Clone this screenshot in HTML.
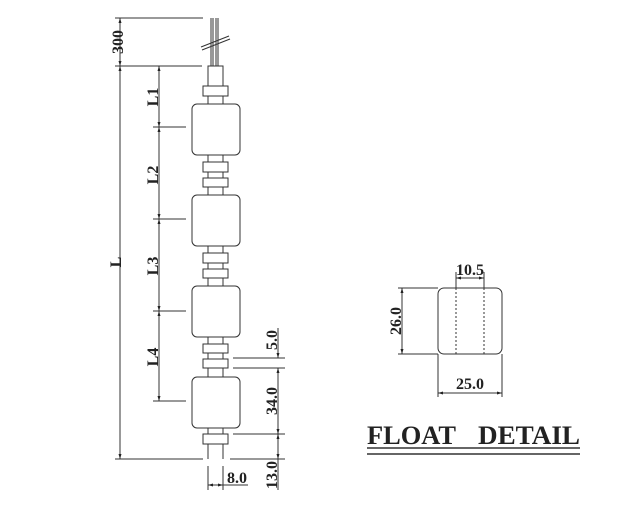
<!DOCTYPE html>
<html><head><meta charset="utf-8"><style>
html,body{margin:0;padding:0;background:#fff;}
svg{display:block;}
text{font-family:"Liberation Serif",serif;fill:#222;}
</style></head><body>
<svg width="619" height="510" viewBox="0 0 619 510" xmlns="http://www.w3.org/2000/svg">
<defs>
<marker id="a" markerWidth="6" markerHeight="6" refX="5" refY="3" orient="auto-start-reverse" markerUnits="userSpaceOnUse"><path d="M0,1.5 L5,3 L0,4.5 Z" fill="#222"/></marker>
</defs>
<g stroke="#333" stroke-width="1" fill="none">
<line x1="211" y1="18" x2="211" y2="66"/><line x1="213" y1="18" x2="213" y2="66"/>
<line x1="216" y1="18" x2="216" y2="66"/><line x1="218" y1="18" x2="218" y2="66"/>
<line x1="201" y1="47" x2="229" y2="36"/><line x1="202" y1="50" x2="230" y2="39"/>
<rect x="208" y="66" width="15" height="20"/>
<rect x="203" y="86" width="25" height="10" fill="#fff"/>
<line x1="208" y1="96" x2="208" y2="104"/><line x1="223" y1="96" x2="223" y2="104"/>
<rect x="192" y="104" width="48" height="51" rx="5" fill="#fff"/>
<line x1="208" y1="155" x2="208" y2="195"/><line x1="223" y1="155" x2="223" y2="195"/>
<rect x="203" y="162" width="25" height="10" fill="#fff"/>
<rect x="203" y="178" width="25" height="9" fill="#fff"/>
<rect x="192" y="195" width="48" height="51" rx="5" fill="#fff"/>
<line x1="208" y1="246" x2="208" y2="286"/><line x1="223" y1="246" x2="223" y2="286"/>
<rect x="203" y="253" width="25" height="10" fill="#fff"/>
<rect x="203" y="269" width="25" height="9" fill="#fff"/>
<rect x="192" y="286" width="48" height="51" rx="5" fill="#fff"/>
<line x1="208" y1="337" x2="208" y2="377"/><line x1="223" y1="337" x2="223" y2="377"/>
<rect x="203" y="344" width="25" height="9" fill="#fff"/>
<rect x="203" y="359" width="25" height="9" fill="#fff"/>
<rect x="192" y="377" width="48" height="51" rx="5" fill="#fff"/>
<line x1="208" y1="428" x2="208" y2="459"/><line x1="223" y1="428" x2="223" y2="459"/>
<rect x="203" y="434" width="25" height="10" fill="#fff"/>
<line x1="115" y1="18" x2="203" y2="18"/>
<line x1="115" y1="66" x2="202" y2="66"/>
<line x1="115" y1="459" x2="203" y2="459"/>
<line x1="120" y1="18" x2="120" y2="66" marker-start="url(#a)" marker-end="url(#a)"/>
<line x1="120" y1="66" x2="120" y2="459" marker-start="url(#a)" marker-end="url(#a)"/>
<line x1="159" y1="66" x2="159" y2="127" marker-start="url(#a)" marker-end="url(#a)"/>
<line x1="159" y1="127" x2="159" y2="219" marker-start="url(#a)" marker-end="url(#a)"/>
<line x1="159" y1="219" x2="159" y2="311" marker-start="url(#a)" marker-end="url(#a)"/>
<line x1="159" y1="311" x2="159" y2="401" marker-start="url(#a)" marker-end="url(#a)"/>
<line x1="153" y1="127" x2="186" y2="127"/>
<line x1="153" y1="219" x2="186" y2="219"/>
<line x1="153" y1="311" x2="186" y2="311"/>
<line x1="153" y1="401" x2="186" y2="401"/>
<line x1="233" y1="358" x2="285" y2="358"/>
<line x1="233" y1="368" x2="285" y2="368"/>
<line x1="233" y1="434" x2="285" y2="434"/>
<line x1="230" y1="459" x2="285" y2="459"/>
<line x1="278" y1="328" x2="278" y2="358" marker-end="url(#a)"/>
<line x1="278" y1="368" x2="278" y2="434" marker-start="url(#a)" marker-end="url(#a)"/>
<line x1="278" y1="434" x2="278" y2="459" marker-start="url(#a)" marker-end="url(#a)"/>
<line x1="278" y1="459" x2="278" y2="490"/>
<line x1="208" y1="466" x2="208" y2="490"/><line x1="223" y1="466" x2="223" y2="490"/>
<line x1="208" y1="485" x2="223" y2="485" marker-start="url(#a)" marker-end="url(#a)"/>
<line x1="223" y1="485" x2="248" y2="485"/>
<rect x="438" y="288" width="64" height="66" rx="6"/>
<line x1="456" y1="288" x2="456" y2="354" stroke-dasharray="2,2"/>
<line x1="484" y1="288" x2="484" y2="354" stroke-dasharray="2,2"/>
<line x1="456" y1="272" x2="456" y2="288"/><line x1="484" y1="272" x2="484" y2="288"/>
<line x1="456" y1="278" x2="484" y2="278" marker-start="url(#a)" marker-end="url(#a)"/>
<line x1="398" y1="288" x2="438" y2="288"/><line x1="398" y1="354" x2="438" y2="354"/>
<line x1="402" y1="288" x2="402" y2="354" marker-start="url(#a)" marker-end="url(#a)"/>
<line x1="438" y1="354" x2="438" y2="397"/><line x1="502" y1="354" x2="502" y2="397"/>
<line x1="438" y1="393" x2="502" y2="393" marker-start="url(#a)" marker-end="url(#a)"/>
<line x1="367" y1="448" x2="580" y2="448" stroke-width="1.5"/>
<line x1="367" y1="454" x2="580" y2="454" stroke-width="1.5"/>
</g>
<g font-size="16" font-weight="bold" fill="#222">
<text transform="translate(123,42) rotate(-90)" text-anchor="middle">300</text>
<text transform="translate(121,262) rotate(-90)" text-anchor="middle">L</text>
<text transform="translate(158,97) rotate(-90)" text-anchor="middle">L1</text>
<text transform="translate(158,175) rotate(-90)" text-anchor="middle">L2</text>
<text transform="translate(158,266) rotate(-90)" text-anchor="middle">L3</text>
<text transform="translate(158,357) rotate(-90)" text-anchor="middle">L4</text>
<text transform="translate(277,340) rotate(-90)" text-anchor="middle">5.0</text>
<text transform="translate(277,401) rotate(-90)" text-anchor="middle">34.0</text>
<text transform="translate(277,475) rotate(-90)" text-anchor="middle">13.0</text>
<text x="227" y="483">8.0</text>
<text x="470" y="275" text-anchor="middle">10.5</text>
<text transform="translate(401,321) rotate(-90)" text-anchor="middle">26.0</text>
<text x="470" y="389" text-anchor="middle">25.0</text>
</g>
<text x="367" y="444" font-size="26" font-weight="bold" textLength="89" lengthAdjust="spacingAndGlyphs" fill="#333">FLOAT</text>
<text x="478" y="444" font-size="26" font-weight="bold" textLength="102" lengthAdjust="spacingAndGlyphs" fill="#333">DETAIL</text>
</svg>
</body></html>
